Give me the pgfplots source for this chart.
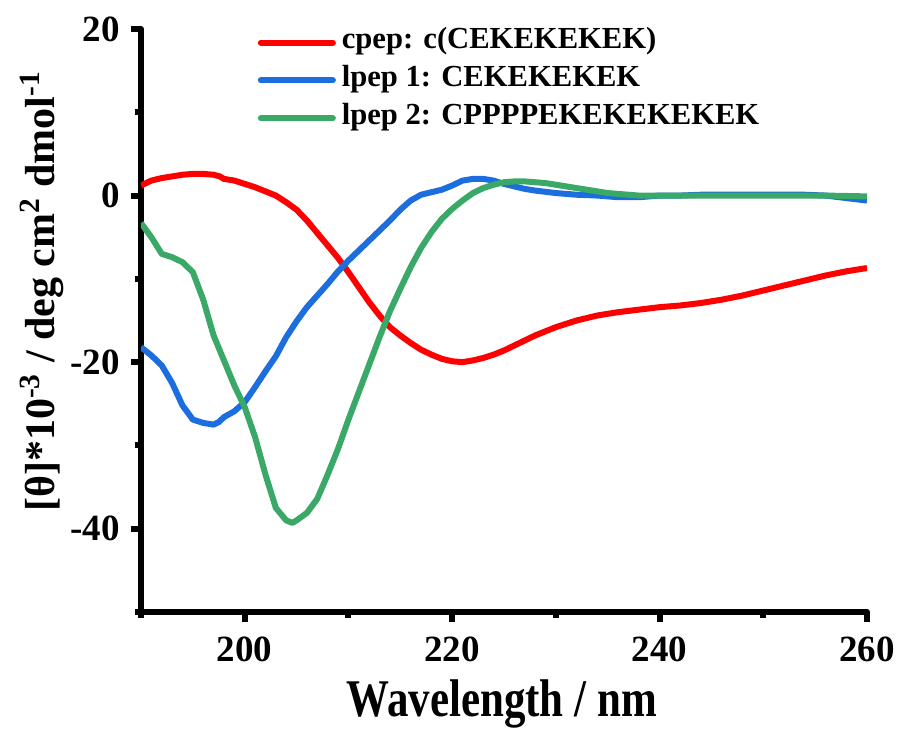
\documentclass[border=0pt]{standalone}
\usepackage{fontspec}
\setmainfont{Liberation Serif}
\newfontfamily\narrowserif{Liberation Serif}[FakeStretch=0.81]
\usepackage{pgfplots}
\pgfplotsset{compat=1.18}
\definecolor{cred}{RGB}{255,0,0}
\definecolor{cblue}{RGB}{28,110,222}
\definecolor{cgreen}{RGB}{58,168,102}
\begin{document}
\begin{tikzpicture}
\useasboundingbox (-70.5pt,-59.5pt) rectangle (379.5pt,306pt);
\begin{axis}[
    width=363pt, height=291.5pt, scale only axis,
    xmin=190, xmax=260, ymin=-50, ymax=20,
    xtick={200,220,240,260}, minor xtick={190,210,230,250},
    ytick={-40,-20,0,20}, minor ytick={-50,-30,-10,10},
    axis x line*=bottom, axis y line*=left,
    axis line style={line width=3pt, line cap=round},
    tick style={line width=3pt, black},
    tick align=outside,
    major tick length=5pt, minor tick length=3pt,
    /pgf/number format/assume math mode=true,
    ticklabel style={font=\fontsize{18.5}{20}\selectfont\bfseries},
    xticklabel style={yshift=-4pt},
    yticklabel style={xshift=-2pt},
    xlabel={Wavelength / nm},
    xlabel style={font=\narrowserif\fontsize{26.5}{30}\selectfont\bfseries,
        at={(axis description cs:0.497,0)}, anchor=base, yshift=-52.5pt},
    ylabel={[θ]*10\textsuperscript{-3} / deg cm\textsuperscript{2} dmol\textsuperscript{-1}},
    ylabel style={font=\fontsize{21}{24}\selectfont\bfseries,
        at={(axis description cs:-0.1185,0.55)}, anchor=base, rotate=0},
    legend style={at={(rel axis cs:0.161,1)}, anchor=north west, yshift=2.6pt,
        draw=none, fill=none, inner sep=0pt, outer sep=0pt, row sep=0pt,
        font=\fontsize{15.3}{18}\selectfont\bfseries,
        nodes={inner ysep=0pt, inner xsep=3pt, text height=12.4pt, text depth=6.5pt}},
    legend cell align=left,
    legend image code/.code={\draw[#1, line width=3pt, line cap=round] (0pt,0pt) -- (36pt,0pt);},
    every axis plot/.append style={line width=3pt, line join=round},
]
\addplot[cred] coordinates {
(190,1.2) (191,1.8) (192,2.1) (193,2.3) (194,2.5) (195,2.6) (196,2.6) (197,2.5) (197.6,2.3)
(198,2.0) (199,1.8) (200,1.4) (201,1.0) (202,0.5) (203,0.0) (204,-0.8) (205,-1.7)
(206,-3.0) (207,-4.5) (208,-6.0) (209,-7.5) (210,-9.2) (211,-11.0) (212,-12.8) (213,-14.4)
(214,-15.8) (215,-16.8) (216,-17.7) (217,-18.5) (218,-19.1) (219,-19.6) (220,-19.9)
(221,-20.0) (222,-19.8) (223,-19.5) (224,-19.1) (225,-18.6) (226,-18.0) (227,-17.4)
(228,-16.8) (229,-16.3) (230,-15.8) (232,-15.0) (234,-14.4) (236,-14.0) (238,-13.7)
(240,-13.4) (242,-13.2) (244,-12.9) (246,-12.5) (248,-12.0) (250,-11.4) (252,-10.8)
(254,-10.2) (256,-9.6) (258,-9.1) (260,-8.7)
};
\addlegendentry{cpep: c(CEKEKEKEK)}
\addplot[cblue] coordinates {
(190,-18.2) (191,-19.2) (192,-20.4) (193,-22.5) (194,-25.2) (195,-26.9) (196,-27.3)
(197,-27.5) (197.5,-27.2) (198,-26.6) (199,-25.9) (200,-24.8) (201,-23.0) (202,-21.1)
(203,-19.3) (204,-17.0) (205,-15.1) (206,-13.4) (207,-12.0) (208,-10.6) (209,-9.1)
(210,-7.8) (211,-6.6) (212,-5.4) (213,-4.2) (214,-3.0) (215,-1.7) (216,-0.6) (217,0.1)
(218,0.4) (219,0.7) (220,1.2) (221,1.8) (222,2.0) (223,2.0) (224,1.8) (225,1.4) (226,1.1)
(227,0.8) (228,0.6) (230,0.3) (232,0.1) (234,0.0) (236,-0.2) (238,-0.2) (240,0.0)
(242,0.0) (244,0.1) (246,0.1) (248,0.1) (250,0.1) (252,0.1) (254,0.1) (256,0.0)
(258,-0.3) (260,-0.6)
};
\addlegendentry{lpep 1: CEKEKEKEK}
\addplot[cgreen] coordinates {
(190,-3.3) (191,-5.0) (192,-7.0) (193,-7.4) (194,-8.0) (195,-9.2) (196,-12.5)
(197,-16.8) (198,-19.8) (199,-22.8) (200,-25.4) (201,-29.0) (202,-33.5) (203,-37.5)
(204,-39.0) (204.6,-39.3) (205,-39.0) (206,-38.1) (207,-36.4) (208,-33.5) (209,-30.4)
(210,-26.9) (211,-23.6) (212,-20.3) (213,-17.0) (214,-13.9) (215,-11.2) (216,-8.6)
(217,-6.3) (218,-4.4) (219,-2.8) (220,-1.6) (221,-0.6) (222,0.3) (223,0.9) (224,1.3)
(225,1.6) (226,1.7) (227,1.7) (228,1.6) (229,1.5) (230,1.3) (231,1.1) (232,0.9) (233,0.7)
(234,0.5) (235,0.3) (236,0.2) (238,0.0) (240,0.0) (244,0.0) (248,0.0) (252,0.0)
(256,0.0) (260,-0.1)
};
\addlegendentry{lpep 2: CPPPPEKEKEKEKEK}
\end{axis}
\end{tikzpicture}
\end{document}
